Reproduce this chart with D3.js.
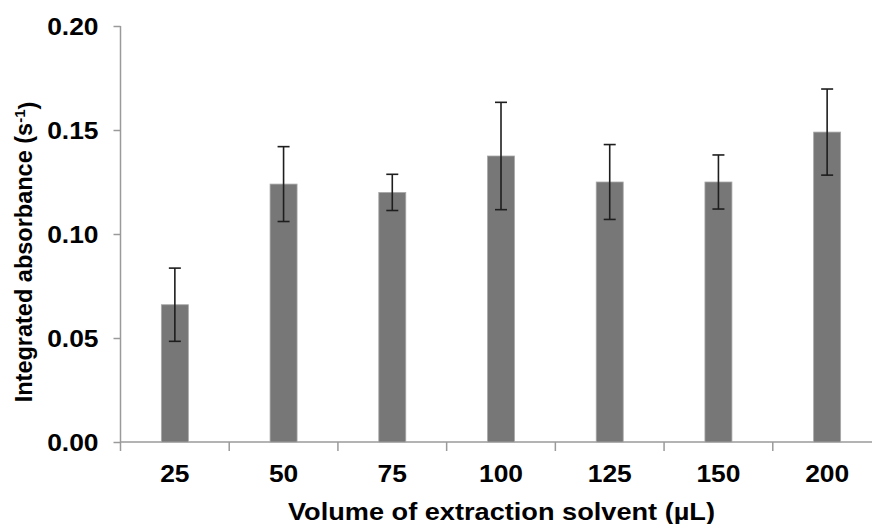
<!DOCTYPE html>
<html><head><meta charset="utf-8">
<script src="https://cdn.jsdelivr.net/npm/d3@7"></script>
<style>body{margin:0;background:#fff}svg{display:block}text{font-family:"Liberation Sans",Arial,sans-serif;font-weight:bold;fill:#000}</style>
</head><body><svg id="c" width="872" height="524"></svg>
<script>
const categories = ["25","50","75","100","125","150","200"];
const values = [0.066, 0.124, 0.120, 0.1375, 0.125, 0.125, 0.149];
const errors = [0.0176, 0.018, 0.0087, 0.0258, 0.018, 0.013, 0.0207];
const yTicks = [0, 0.05, 0.10, 0.15, 0.20];

const svg = d3.select("#c");
const mLeft = 120.5, mRight = 881.5, mTop = 26, mBottom = 442;
const x = d3.scaleBand().domain(categories).range([mLeft, mRight]).paddingInner(0).paddingOuter(0);
const y = d3.scaleLinear().domain([0, 0.2]).range([mBottom, mTop]);
const axisColor = "#9a9a9a";
const sx = 1.1;

// y axis
const ya = svg.append("g").attr("transform", `translate(${mLeft},0)`)
  .call(d3.axisLeft(y).tickValues(yTicks).tickFormat(d3.format(".2f")).tickSize(7).tickPadding(0));
ya.select(".domain").attr("stroke", axisColor).attr("stroke-width", 1.5).attr("d", `M0,${mTop}V${mBottom}`);
ya.selectAll(".tick line").attr("stroke", axisColor).attr("stroke-width", 1.5);
ya.selectAll(".tick text").style("font-size", "24px").attr("dy", "0.35em")
  .attr("x", 0).attr("transform", `translate(-22,0) scale(${sx},1)`);

// x axis
const xa = svg.append("g").attr("transform", `translate(0,${mBottom})`)
  .call(d3.axisBottom(x).tickSize(0).tickPadding(23));
xa.select(".domain").attr("stroke", axisColor).attr("stroke-width", 1.5).attr("d", `M${mLeft},0H${mRight}`);
xa.selectAll(".tick text").style("font-size", "24px").attr("dy", "0.71em")
  .attr("transform", `scale(${sx},1)`);
// boundary ticks
const bounds = categories.map(c => x(c)).concat([mRight]);
svg.append("g").selectAll("line").data(bounds).join("line")
  .attr("x1", d => d).attr("x2", d => d).attr("y1", mBottom).attr("y2", mBottom + 9)
  .attr("stroke", axisColor).attr("stroke-width", 1.5);

// bars
const bw = 27;
svg.append("g").selectAll("rect").data(values).join("rect")
  .attr("x", (d, i) => x(categories[i]) + x.bandwidth() / 2 - bw / 2)
  .attr("y", d => y(d))
  .attr("width", bw)
  .attr("height", d => mBottom - y(d))
  .attr("fill", "#777777")
  .attr("stroke", "#a8a8a8").attr("stroke-width", 0.8);

// error bars
const eg = svg.append("g").attr("stroke", "#1e1e1e").attr("stroke-width", 1.6);
values.forEach((v, i) => {
  const cx = x(categories[i]) + x.bandwidth() / 2;
  const y1 = y(v + errors[i]), y2 = y(v - errors[i]);
  eg.append("line").attr("x1", cx).attr("x2", cx).attr("y1", y1).attr("y2", y2);
  eg.append("line").attr("x1", cx - 6).attr("x2", cx + 6).attr("y1", y1).attr("y2", y1);
  eg.append("line").attr("x1", cx - 6).attr("x2", cx + 6).attr("y1", y2).attr("y2", y2);
});

// axis titles
svg.append("text").attr("x", 501.5).attr("y", 520).attr("text-anchor", "middle")
  .attr("textLength", 427).attr("lengthAdjust", "spacingAndGlyphs")
  .style("font-size", "24px").text("Volume of extraction solvent (µL)");
const yt = svg.append("text").attr("transform", `translate(32,252) rotate(-90)`)
  .attr("text-anchor", "middle").style("font-size", "23.5px");
yt.append("tspan").text("Integrated absorbance (s");
yt.append("tspan").attr("dy", "-0.45em").style("font-size", "15px").text("-1");
yt.append("tspan").attr("dy", "0.45em").text(")");
</script></body></html>
